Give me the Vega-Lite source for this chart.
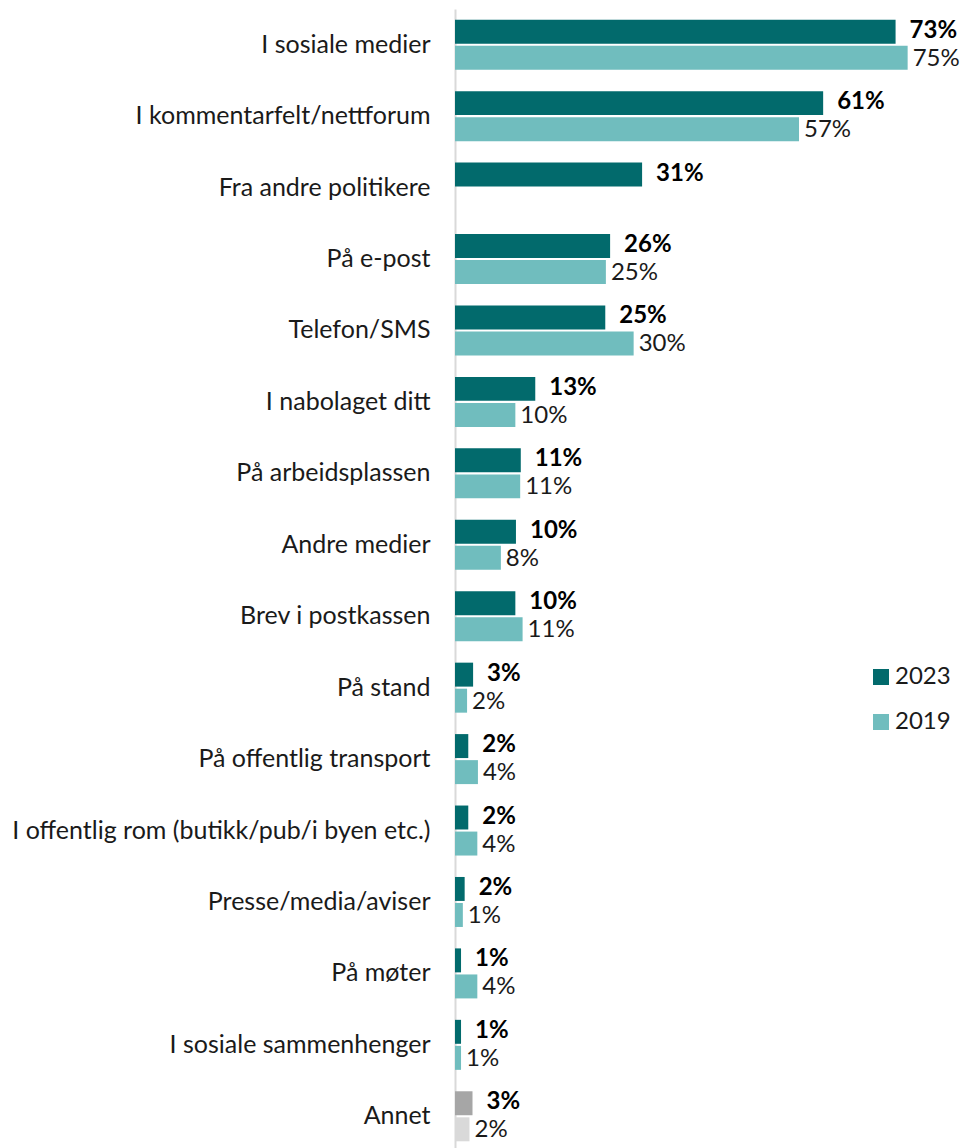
{
  "$schema": "https://vega.github.io/schema/vega-lite/v6.json",
  "autosize": {"type": "none"},
  "padding": {"left": 455, "top": 9, "right": 0, "bottom": 0},
  "width": 513,
  "height": 1143,
  "background": "white",
  "config": {"view": {"stroke": null}, "font": "Lato"},
  "data": {"values": [
    {"cat": "I sosiale medier", "year": "2023", "series": "2023", "value": 73, "label": "73%"},
    {"cat": "I sosiale medier", "year": "2019", "series": "2019", "value": 75, "label": "75%"},
    {"cat": "I kommentarfelt/nettforum", "year": "2023", "series": "2023", "value": 61, "label": "61%"},
    {"cat": "I kommentarfelt/nettforum", "year": "2019", "series": "2019", "value": 57, "label": "57%"},
    {"cat": "Fra andre politikere", "year": "2023", "series": "2023", "value": 31, "label": "31%"},
    {"cat": "På e-post", "year": "2023", "series": "2023", "value": 25.7, "label": "26%"},
    {"cat": "På e-post", "year": "2019", "series": "2019", "value": 25, "label": "25%"},
    {"cat": "Telefon/SMS", "year": "2023", "series": "2023", "value": 24.9, "label": "25%"},
    {"cat": "Telefon/SMS", "year": "2019", "series": "2019", "value": 29.6, "label": "30%"},
    {"cat": "I nabolaget ditt", "year": "2023", "series": "2023", "value": 13.3, "label": "13%"},
    {"cat": "I nabolaget ditt", "year": "2019", "series": "2019", "value": 10, "label": "10%"},
    {"cat": "På arbeidsplassen", "year": "2023", "series": "2023", "value": 10.9, "label": "11%"},
    {"cat": "På arbeidsplassen", "year": "2019", "series": "2019", "value": 10.8, "label": "11%"},
    {"cat": "Andre medier", "year": "2023", "series": "2023", "value": 10.1, "label": "10%"},
    {"cat": "Andre medier", "year": "2019", "series": "2019", "value": 7.6, "label": "8%"},
    {"cat": "Brev i postkassen", "year": "2023", "series": "2023", "value": 10, "label": "10%"},
    {"cat": "Brev i postkassen", "year": "2019", "series": "2019", "value": 11.2, "label": "11%"},
    {"cat": "På stand", "year": "2023", "series": "2023", "value": 3, "label": "3%"},
    {"cat": "På stand", "year": "2019", "series": "2019", "value": 2, "label": "2%"},
    {"cat": "På offentlig transport", "year": "2023", "series": "2023", "value": 2.2, "label": "2%"},
    {"cat": "På offentlig transport", "year": "2019", "series": "2019", "value": 3.8, "label": "4%"},
    {"cat": "I offentlig rom (butikk/pub/i byen etc.)", "year": "2023", "series": "2023", "value": 2.2, "label": "2%"},
    {"cat": "I offentlig rom (butikk/pub/i byen etc.)", "year": "2019", "series": "2019", "value": 3.7, "label": "4%"},
    {"cat": "Presse/media/aviser", "year": "2023", "series": "2023", "value": 1.6, "label": "2%"},
    {"cat": "Presse/media/aviser", "year": "2019", "series": "2019", "value": 1.3, "label": "1%"},
    {"cat": "På møter", "year": "2023", "series": "2023", "value": 1, "label": "1%"},
    {"cat": "På møter", "year": "2019", "series": "2019", "value": 3.7, "label": "4%"},
    {"cat": "I sosiale sammenhenger", "year": "2023", "series": "2023", "value": 1, "label": "1%"},
    {"cat": "I sosiale sammenhenger", "year": "2019", "series": "2019", "value": 1, "label": "1%"},
    {"cat": "Annet", "year": "2023", "series": "Annet 2023", "value": 2.9, "label": "3%"},
    {"cat": "Annet", "year": "2019", "series": "Annet 2019", "value": 2.4, "label": "2%"}
  ]},
  "encoding": {
    "y": {
      "field": "cat", "type": "nominal", "sort": null,
      "scale": {"paddingInner": 0.3, "paddingOuter": 0.15},
      "axis": {
        "title": null, "ticks": false, "labelPadding": 25, "labelLimit": 600,
        "labelFont": "Lato", "labelFontSize": 25, "labelColor": "#1a1a1a",
        "domainColor": "#D9D9D9", "domainWidth": 2
      }
    },
    "yOffset": {"field": "year", "type": "nominal", "sort": ["2023", "2019"], "scale": {"paddingInner": 0.08, "paddingOuter": 0}},
    "x": {"field": "value", "type": "quantitative", "scale": {"domain": [0, 85]}, "axis": null}
  },
  "layer": [
    {
      "mark": {"type": "bar"},
      "encoding": {
        "color": {
          "field": "series", "type": "nominal",
          "scale": {"domain": ["2023", "2019", "Annet 2023", "Annet 2019"], "range": ["#026A6C", "#70BDBE", "#A6A6A6", "#D9D9D9"]},
          "legend": {
            "values": ["2023", "2019"], "title": null, "orient": "none", "legendX": 414, "legendY": 656,
            "symbolType": "square", "symbolSize": 256, "symbolStrokeWidth": 0,
            "labelFont": "Lato", "labelFontSize": 24, "labelColor": "#1a1a1a", "rowPadding": 21, "labelOffset": 2
          }
        }
      }
    },
    {
      "transform": [{"filter": "datum.year == '2023'"}],
      "mark": {"type": "text", "align": "left", "baseline": "middle", "dx": 14, "dy": -1, "font": "Lato", "fontSize": 24, "fontWeight": "bold", "color": "#000000"},
      "encoding": {"text": {"field": "label"}}
    },
    {
      "transform": [{"filter": "datum.year == '2019'"}],
      "mark": {"type": "text", "align": "left", "baseline": "middle", "dx": 5, "dy": 1, "font": "Lato", "fontSize": 24, "color": "#1a1a1a"},
      "encoding": {"text": {"field": "label"}}
    }
  ]
}
